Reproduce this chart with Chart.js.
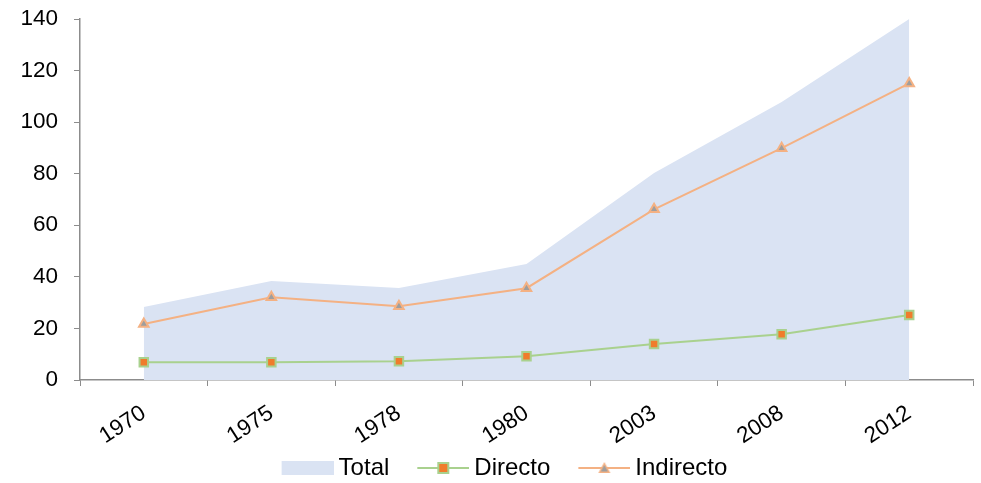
<!DOCTYPE html>
<html>
<head>
<meta charset="utf-8">
<script src="https://cdn.jsdelivr.net/npm/chart.js@4/dist/chart.umd.min.js"></script>
<style>
  html, body { margin: 0; padding: 0; background: #fff; }
  #wrap { width: 981px; height: 483px; }
</style>
</head>
<body>
<div id="wrap"><canvas id="chart" width="981" height="483"></canvas></div>
<script>
const years = ['1970', '1975', '1978', '1980', '2003', '2008', '2012']
const total = [28.3, 38.4, 35.7, 45, 80.3, 107.8, 140]
const directo = [6.9, 6.9, 7.3, 9.2, 14, 17.7, 25.2]
const indirecto = [21.7, 32.1, 28.6, 35.6, 66.2, 89.9, 115]
const yTicks = [0, 20, 40, 60, 80, 100, 120, 140]

const FONT = "'Liberation Sans', Arial, sans-serif"
const blueFill = '#dae3f3'
const green = '#a9d18e'
const orangeDot = '#f07c2c'
const peach = '#f4b183'
const greyDot = '#9e9e9e'

// legend spacing: the icon content sits at the right end of a wider canvas
const LEGEND_PAD = 4
const BOX_W = 73 - LEGEND_PAD
const ICON_W = BOX_W + 14

function legendIcon(kind) {
    const c = document.createElement('canvas')
    c.width = ICON_W
    c.height = 16
    const ctx = c.getContext('2d')
    const x0 = ICON_W - 52
    if (kind === 'area') {
        ctx.fillStyle = blueFill
        ctx.fillRect(x0, 1, 52, 14)
        return c
    }
    ctx.strokeStyle = kind === 'square' ? green : peach
    ctx.lineWidth = 2
    ctx.beginPath()
    ctx.moveTo(x0, 8)
    ctx.lineTo(x0 + 52, 8)
    ctx.stroke()
    if (kind === 'square') {
        ctx.fillStyle = green
        ctx.fillRect(x0 + 20, 2, 12, 12)
        ctx.fillStyle = orangeDot
        ctx.fillRect(x0 + 22, 4, 8, 8)
    } else {
        ctx.fillStyle = peach
        ctx.beginPath()
        ctx.moveTo(x0 + 26, 2)
        ctx.lineTo(x0 + 32, 13)
        ctx.lineTo(x0 + 20, 13)
        ctx.closePath()
        ctx.fill()
        ctx.fillStyle = greyDot
        ctx.beginPath()
        ctx.moveTo(x0 + 26, 5)
        ctx.lineTo(x0 + 29.5, 11.5)
        ctx.lineTo(x0 + 22.5, 11.5)
        ctx.closePath()
        ctx.fill()
    }
    return c
}

const icons = [legendIcon('area'), legendIcon('square'), legendIcon('triangle')]

new Chart(document.querySelector('#chart'), {
    type: 'line',
    data: {
        labels: years,
        datasets: [
            {
                label: 'Total',
                data: total,
                fill: 'origin',
                backgroundColor: blueFill,
                borderWidth: 0,
                pointRadius: 0,
                tension: 0,
                order: 3
            },
            {
                label: 'Directo',
                data: directo,
                borderColor: green,
                borderWidth: 2,
                pointStyle: 'rect',
                pointRadius: 6,
                pointBackgroundColor: orangeDot,
                pointBorderColor: green,
                pointBorderWidth: 2,
                tension: 0,
                order: 2
            },
            {
                label: 'Indirecto',
                data: indirecto,
                borderColor: peach,
                borderWidth: 2,
                pointStyle: 'triangle',
                pointRadius: 5.5,
                pointBackgroundColor: greyDot,
                pointBorderColor: peach,
                pointBorderWidth: 2,
                tension: 0,
                order: 1
            }
        ]
    },
    options: {
        responsive: false,
        animation: false,
        layout: { padding: { top: 19, right: 6, left: 10, bottom: -7 } },
        plugins: {
            tooltip: { enabled: false },
            legend: {
                position: 'bottom',
                labels: {
                    usePointStyle: true,
                    pointStyleWidth: BOX_W,
                    boxHeight: 16,
                    padding: LEGEND_PAD,
                    color: '#000',
                    font: { family: FONT, size: 24 },
                    generateLabels: chart => chart.data.datasets.map((ds, i) => ({
                        text: ds.label,
                        pointStyle: icons[i],
                        fillStyle: 'transparent',
                        strokeStyle: 'transparent',
                        lineWidth: 0,
                        fontColor: '#000',
                        datasetIndex: i,
                        hidden: false
                    }))
                }
            }
        },
        scales: {
            x: {
                offset: true,
                afterFit: axis => { axis.height = 72 },
                grid: {
                    offset: true,
                    drawOnChartArea: false,
                    drawTicks: true,
                    tickLength: 6,
                    color: '#8c8c8c'
                },
                border: { color: '#8c8c8c', width: 1.5 },
                ticks: {
                    color: '#000',
                    font: { family: FONT, size: 22.5 },
                    minRotation: 33,
                    maxRotation: 33,
                    padding: 14
                }
            },
            y: {
                min: 0,
                max: 140,
                afterBuildTicks: axis => { axis.ticks = yTicks.map(v => ({ value: v })) },
                afterFit: axis => { axis.width = 70 },
                grid: {
                    drawOnChartArea: false,
                    drawTicks: true,
                    tickLength: 6,
                    color: '#8c8c8c'
                },
                border: { color: '#8c8c8c', width: 1.5 },
                ticks: {
                    color: '#000',
                    font: { family: FONT, size: 22.5, lineHeight: 0.2 },
                    padding: 16
                }
            }
        }
    }
})
</script>
</body>
</html>
